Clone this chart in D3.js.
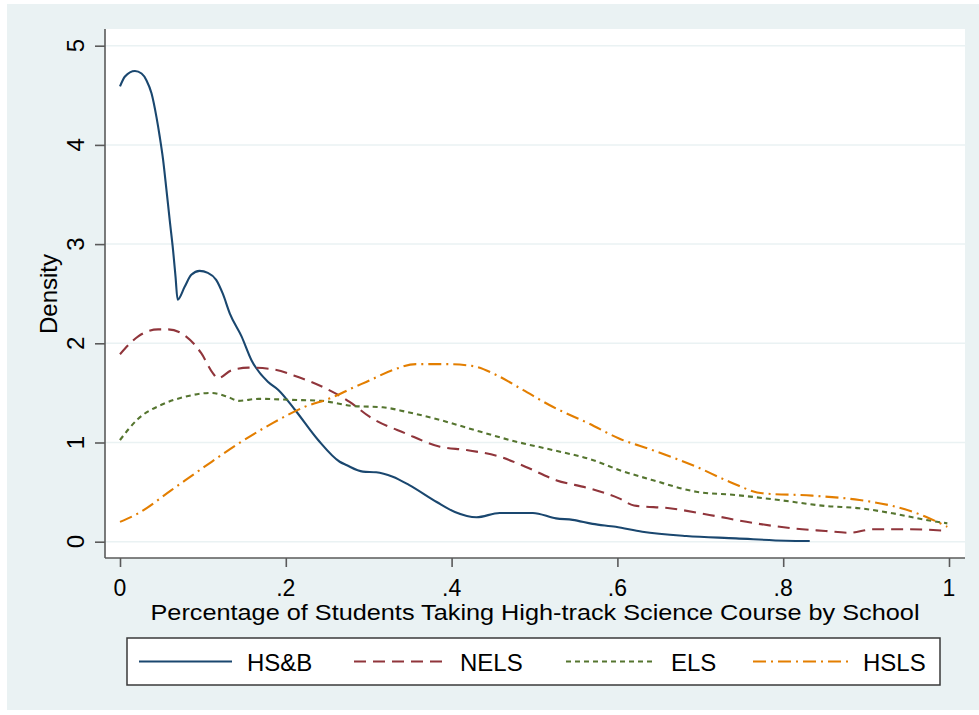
<!DOCTYPE html>
<html>
<head>
<meta charset="utf-8">
<script src="https://cdn.jsdelivr.net/npm/d3@7"></script>
<style>
  html, body { margin: 0; padding: 0; background: #ffffff; }
  svg { display: block; }
  text { font-family: "Liberation Sans", Arial, sans-serif; fill: #000; }
</style>
</head>
<body>
<script>
// Kernel density estimates of the share of students taking a high-track
// science course, by school, for four national cohort studies.
const densityHSB = [
  [0, 4.59], [0.006, 4.69], [0.018, 4.745], [0.026, 4.72], [0.032, 4.65],
  [0.038, 4.52], [0.044, 4.28], [0.048, 4.08], [0.052, 3.85], [0.056, 3.55],
  [0.060, 3.24], [0.064, 2.94], [0.067, 2.67], [0.0695, 2.44], [0.078, 2.57],
  [0.086, 2.69], [0.096, 2.73], [0.106, 2.71], [0.116, 2.64], [0.124, 2.50],
  [0.1325, 2.30], [0.1466, 2.07], [0.1586, 1.83], [0.1787, 1.61], [0.191, 1.53],
  [0.211, 1.33], [0.239, 1.025], [0.265, 0.806], [0.273, 0.773], [0.293, 0.706],
  [0.309, 0.70], [0.329, 0.655], [0.349, 0.57], [0.382, 0.40], [0.404, 0.30],
  [0.430, 0.246], [0.458, 0.29], [0.498, 0.29], [0.526, 0.235], [0.546, 0.22],
  [0.570, 0.18], [0.598, 0.15], [0.630, 0.10], [0.683, 0.057], [0.743, 0.034],
  [0.803, 0.01], [0.832, 0.007]
];

const densityNELS = [
  [0, 1.89], [0.022, 2.07], [0.046, 2.14], [0.058, 2.14], [0.078, 2.08],
  [0.098, 1.90], [0.112, 1.70], [0.1177, 1.647], [0.135, 1.73], [0.155, 1.755],
  [0.183, 1.74], [0.215, 1.66], [0.247, 1.55], [0.277, 1.41], [0.301, 1.26],
  [0.345, 1.09], [0.386, 0.958], [0.418, 0.924], [0.458, 0.857], [0.489, 0.756],
  [0.526, 0.62], [0.566, 0.538], [0.602, 0.437], [0.620, 0.365], [0.663, 0.337],
  [0.711, 0.27], [0.763, 0.19], [0.811, 0.135], [0.851, 0.108], [0.880, 0.09],
  [0.908, 0.125], [0.952, 0.125], [0.998, 0.11]
];

const densityELS = [
  [0, 1.025], [0.022, 1.24], [0.050, 1.38], [0.078, 1.46], [0.11, 1.50],
  [0.13, 1.46], [0.143, 1.42], [0.167, 1.44], [0.207, 1.43], [0.243, 1.42],
  [0.281, 1.368], [0.317, 1.355], [0.345, 1.31], [0.386, 1.227], [0.434, 1.11],
  [0.478, 1.008], [0.522, 0.924], [0.570, 0.824], [0.602, 0.723], [0.642, 0.622],
  [0.695, 0.504], [0.743, 0.47], [0.795, 0.42], [0.851, 0.36], [0.892, 0.337],
  [0.932, 0.286], [0.972, 0.22], [0.998, 0.185]
];

const densityHSLS = [
  [0, 0.20], [0.022, 0.286], [0.062, 0.52], [0.102, 0.756], [0.143, 0.99],
  [0.183, 1.19], [0.223, 1.36], [0.255, 1.45], [0.283, 1.56], [0.297, 1.61],
  [0.329, 1.73], [0.357, 1.79], [0.394, 1.79], [0.426, 1.77], [0.454, 1.68],
  [0.486, 1.53], [0.522, 1.36], [0.566, 1.19], [0.602, 1.04], [0.642, 0.924],
  [0.695, 0.756], [0.735, 0.605], [0.775, 0.488], [0.835, 0.464], [0.892, 0.42],
  [0.932, 0.36], [0.972, 0.252], [0.998, 0.15]
];

const seriesNames = ["HS&B", "NELS", "ELS", "HSLS"];
const xTicks = [0, 0.2, 0.4, 0.6, 0.8, 1];
const xTickLabels = ["0", ".2", ".4", ".6", ".8", "1"];
const yTicks = [0, 1, 2, 3, 4, 5];
const xTitle = "Percentage of Students Taking High-track Science Course by School";
const yTitle = "Density";

const series = [
  { name: seriesNames[0], values: densityHSB, color: "#1a476f", dash: null },
  { name: seriesNames[1], values: densityNELS, color: "#90353b", dash: "12,7" },
  { name: seriesNames[2], values: densityELS, color: "#55752f", dash: "5,4" },
  { name: seriesNames[3], values: densityHSLS, color: "#e37e00", dash: "13,5,2,5" }
];

const W = 979, H = 715;
const plot = { left: 105, right: 965, top: 29, bottom: 558 };
const axisColor = "#5a5a5a";
const gridColor = "#eaf2f3";

const svg = d3.select("body").append("svg").attr("width", W).attr("height", H);

// graph background and white plot region
svg.append("rect").attr("x", 7).attr("y", 4).attr("width", W - 7).attr("height", 706)
  .attr("fill", "#eaf2f3");
svg.append("rect").attr("x", plot.left).attr("y", plot.top)
  .attr("width", plot.right - plot.left).attr("height", plot.bottom - plot.top)
  .attr("fill", "#ffffff");

const x = d3.scaleLinear().domain([0, 1]).range([120, 949]);
const y = d3.scaleLinear().domain([0, 5]).range([541.7, 45.7]);

// horizontal grid lines
svg.append("g").selectAll("line").data(yTicks).join("line")
  .attr("x1", plot.left).attr("x2", plot.right)
  .attr("y1", d => y(d)).attr("y2", d => y(d))
  .attr("stroke", gridColor).attr("stroke-width", 1.5);

// y axis
const yAxis = svg.append("g").attr("transform", `translate(${plot.left},0)`)
  .call(d3.axisLeft(y).tickValues(yTicks).tickSize(10).tickFormat(""));
yAxis.select(".domain").attr("d", `M0,${plot.top}V${plot.bottom}`);
yAxis.selectAll("path, line").attr("stroke", axisColor).attr("stroke-width", 1.6);
svg.append("g").selectAll("text").data(yTicks).join("text")
  .attr("transform", d => `translate(75,${y(d)}) rotate(-90)`)
  .attr("text-anchor", "middle").attr("dominant-baseline", "central")
  .attr("font-size", 24).text(d => d);

// x axis
const xAxis = svg.append("g").attr("transform", `translate(0,${plot.bottom})`)
  .call(d3.axisBottom(x).tickValues(xTicks).tickSize(9).tickFormat(""));
xAxis.select(".domain").attr("d", `M${plot.left},0H${plot.right}`);
xAxis.selectAll("path, line").attr("stroke", axisColor).attr("stroke-width", 1.6);
svg.append("g").selectAll("text").data(xTicks).join("text")
  .attr("x", d => x(d)).attr("y", 595.5)
  .attr("text-anchor", "middle").attr("font-size", 23)
  .text((d, i) => xTickLabels[i]);

// axis titles
svg.append("text").attr("x", 535).attr("y", 620)
  .attr("text-anchor", "middle").attr("font-size", 22)
  .attr("textLength", 769).attr("lengthAdjust", "spacingAndGlyphs")
  .text(xTitle);
svg.append("text").attr("transform", "translate(48,294) rotate(-90)")
  .attr("text-anchor", "middle").attr("dominant-baseline", "central")
  .attr("font-size", 24).text(yTitle);

// density curves
const line = d3.line().x(d => x(d[0])).y(d => y(d[1])).curve(d3.curveMonotoneX);
svg.append("g").selectAll("path").data(series).join("path")
  .attr("d", d => line(d.values))
  .attr("fill", "none")
  .attr("stroke", d => d.color)
  .attr("stroke-width", 2.1)
  .attr("stroke-dasharray", d => d.dash)
  .attr("stroke-linejoin", "round");

// legend
const legend = svg.append("g");
legend.append("rect").attr("x", 127).attr("y", 638).attr("width", 813).attr("height", 47)
  .attr("fill", "#ffffff").attr("stroke", "#3a3a3a").attr("stroke-width", 1.5);
const legendX = [139, 354, 566, 753];
const legendLen = [93, 91, 90, 95];
series.forEach((s, i) => {
  legend.append("line")
    .attr("x1", legendX[i]).attr("x2", legendX[i] + legendLen[i])
    .attr("y1", 661.5).attr("y2", 661.5)
    .attr("stroke", s.color).attr("stroke-width", 2.1)
    .attr("stroke-dasharray", s.dash);
  legend.append("text")
    .attr("x", legendX[i] + legendLen[i] + 15).attr("y", 671)
    .attr("font-size", 24).text(s.name);
});
</script>
</body>
</html>
